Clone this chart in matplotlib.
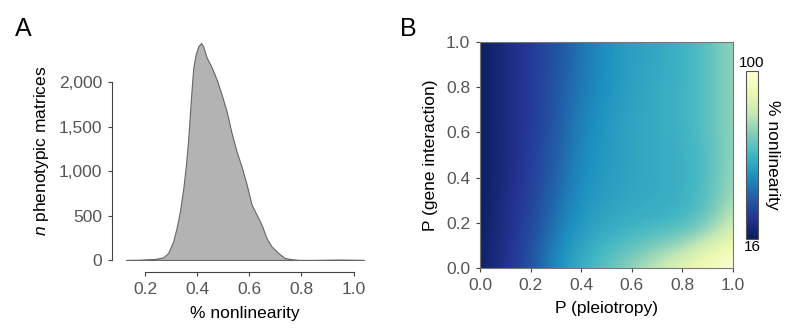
import matplotlib
matplotlib.use('Agg')
import matplotlib.pyplot as plt
import numpy as np

plt.rcParams['font.family'] = ['Liberation Sans', 'DejaVu Sans']
plt.rcParams['mathtext.fontset'] = 'custom'
plt.rcParams['mathtext.it'] = 'Liberation Sans:italic'
plt.rcParams['mathtext.rm'] = 'Liberation Sans'

# panel A: density of % nonlinearity
dens_x = [0.127, 0.181, 0.24, 0.27, 0.289, 0.308, 0.321, 0.334, 0.347, 0.357,
          0.366, 0.372, 0.379, 0.385, 0.394, 0.404, 0.415, 0.423, 0.436, 0.456,
          0.475, 0.494, 0.513, 0.532, 0.551, 0.570, 0.590, 0.609, 0.628, 0.647,
          0.666, 0.685, 0.711, 0.736, 0.762, 0.79, 0.85, 0.95, 1.04]
dens_y = [0, 2, 12, 30, 79, 210, 360, 548, 810, 1072,
          1372, 1635, 1935, 2160, 2310, 2404, 2441, 2404, 2280, 2165,
          2029, 1860, 1672, 1429, 1222, 1054, 847, 622, 510, 397,
          247, 154, 79, 22, 8, 0, 0, 4, 0]
a_xticks = [0.2, 0.4, 0.6, 0.8, 1.0]
a_yticks = [0, 500, 1000, 1500, 2000]
a_yticklabels = ['0', '500', '1,000', '1,500', '2,000']

# panel B: % nonlinearity grid, rows = P(gene interaction) 0..1, cols = P(pleiotropy) 0..1
p_pleio = np.linspace(0, 1, 11)
p_inter = np.linspace(0, 1, 11)
nonlin = np.array([
    [18, 25, 34, 47, 56, 64, 72, 80, 88, 95, 100],
    [18, 25, 33, 45, 53, 58, 63, 68, 74, 83, 91],
    [17, 24, 31, 42, 50, 54, 56, 57, 59, 67, 81],
    [17, 24, 30, 40, 48, 52, 54, 55, 56, 62, 75],
    [17, 23, 29, 38, 47, 51, 53, 55, 56, 61, 73],
    [17, 23, 29, 37, 46, 50, 53, 55, 56, 61, 72],
    [17, 23, 28, 36, 45, 50, 53, 55, 57, 62, 72],
    [17, 23, 28, 35, 44, 49, 53, 55, 57, 62, 72],
    [17, 23, 28, 35, 43, 48, 52, 55, 57, 62, 72],
    [17, 23, 28, 34, 42, 48, 52, 54, 57, 62, 72],
    [17, 23, 28, 34, 42, 48, 52, 54, 57, 62, 72],
])
cmin, cmax = 16, 100

tick_col = '#555555'
fs = 12.5
fig = plt.figure(figsize=(8, 3.35), dpi=100)

# ---- A ----
ax = fig.add_axes([0.1575, 0.224, 0.2975, 0.65])
ax.fill_between(dens_x, dens_y, 0, color='#b3b3b3', edgecolor='#666666', linewidth=0.8)
ax.set_xlim(0.127, 1.04)
ax.set_ylim(0, 2450)
for s in ['top', 'right']:
    ax.spines[s].set_visible(False)
ax.spines['left'].set_position(('outward', 10))
ax.spines['bottom'].set_position(('outward', 9))
ax.spines['left'].set_bounds(0, 2000)
ax.spines['bottom'].set_bounds(0.2, 1.0)
for s in ['left', 'bottom']:
    ax.spines[s].set_color('#444444')
    ax.spines[s].set_linewidth(0.8)
ax.set_xticks(a_xticks)
ax.set_xticklabels(['%.1f' % v for v in a_xticks])
ax.set_yticks(a_yticks)
ax.set_yticklabels(a_yticklabels)
ax.tick_params(length=3, width=0.8, color='#444444', labelcolor=tick_col, labelsize=fs, pad=4)
ax.set_xlabel('% nonlinearity', fontsize=fs, labelpad=6)
ax.set_ylabel(r'$\mathit{n}$ phenotypic matrices', fontsize=fs, labelpad=6)
fig.text(0.019, 0.892, 'A', fontsize=18, ha='left', va='baseline')

# ---- B ----
bx = fig.add_axes([0.6, 0.199, 0.316, 0.676])
step = p_pleio[1] - p_pleio[0]
im = bx.imshow(nonlin, origin='lower', cmap='YlGnBu_r', vmin=cmin, vmax=cmax,
               interpolation='bicubic', aspect='auto',
               extent=(p_pleio[0] - step / 2, p_pleio[-1] + step / 2,
                       p_inter[0] - step / 2, p_inter[-1] + step / 2))
bx.set_xlim(0, 1)
bx.set_ylim(0, 1)
ticks = [0.0, 0.2, 0.4, 0.6, 0.8, 1.0]
bx.set_xticks(ticks)
bx.set_yticks(ticks)
bx.set_xticklabels(['%.1f' % v for v in ticks])
bx.set_yticklabels(['%.1f' % v for v in ticks])
for s in bx.spines.values():
    s.set_color('#777777')
    s.set_linewidth(0.8)
bx.tick_params(length=3, width=0.8, color='#444444', labelcolor=tick_col, labelsize=fs, pad=4)
bx.set_xlabel('P (pleiotropy)', fontsize=fs, labelpad=6)
bx.set_ylabel('P (gene interaction)', fontsize=fs, labelpad=6)
fig.text(0.500, 0.892, 'B', fontsize=18, ha='left', va='baseline')

cax = fig.add_axes([0.932, 0.286, 0.0158, 0.503])
cb = fig.colorbar(im, cax=cax)
cb.set_ticks([])
cb.outline.set_linewidth(0.8)
cb.outline.set_edgecolor('#555555')
cax.text(0.5, 1.005, str(cmax), transform=cax.transAxes, ha='center', va='bottom', fontsize=11)
cax.text(0.5, -0.005, str(cmin), transform=cax.transAxes, ha='center', va='top', fontsize=11)
cax.set_ylabel('% nonlinearity', rotation=-90, fontsize=fs, labelpad=16)
cax.yaxis.set_label_position('right')

fig.savefig('out.png', dpi=100)
